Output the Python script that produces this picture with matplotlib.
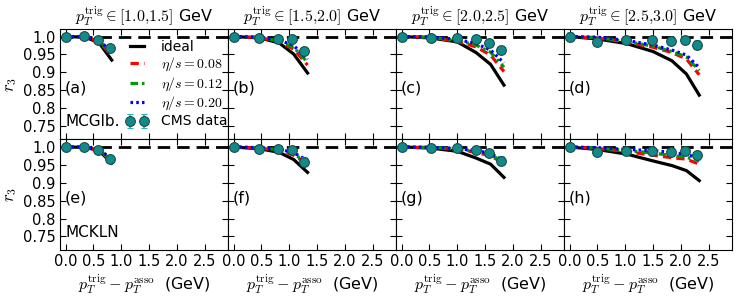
import matplotlib
matplotlib.use('Agg')
import matplotlib.pyplot as plt
import numpy as np

plt.rcParams['mathtext.fontset'] = 'cm'
plt.rcParams['font.family'] = 'DejaVu Sans'
plt.rcParams['font.size'] = 10

# trigger bins (one column each)
trig_bins = ['1.0{,}1.5', '1.5{,}2.0', '2.0{,}2.5', '2.5{,}3.0']
panel_tags = [['(a)', '(b)', '(c)', '(d)'], ['(e)', '(f)', '(g)', '(h)']]
row_names = ['MCGlb.', 'MCKLN']

# CMS data, same for both rows
x_data = [
    [0.0, 0.34, 0.58, 0.80],
    [0.0, 0.46, 0.80, 1.05, 1.27],
    [0.0, 0.52, 0.99, 1.33, 1.57, 1.79],
    [0.0, 0.49, 1.02, 1.48, 1.82, 2.07, 2.29],
]
r3_data = [
    [1.0, 1.001, 0.991, 0.967],
    [1.0, 0.995, 0.993, 0.992, 0.959],
    [1.0, 0.997, 0.997, 0.992, 0.983, 0.962],
    [1.0, 0.986, 0.989, 0.990, 0.987, 0.989, 0.977],
]
r3_err = [
    [0.002, 0.003, 0.004, 0.010],
    [0.002, 0.003, 0.004, 0.005, 0.012],
    [0.003, 0.003, 0.004, 0.005, 0.006, 0.012],
    [0.012, 0.008, 0.005, 0.006, 0.007, 0.010, 0.012],
]

# model curves
x_model = [
    [0.0, 0.35, 0.60, 0.83],
    [0.0, 0.47, 0.82, 1.08, 1.33],
    [0.0, 0.52, 1.00, 1.34, 1.60, 1.84],
    [0.0, 0.50, 1.03, 1.50, 1.84, 2.10, 2.33],
]

# MCGlb.
glb_ideal = [
    [1.0, 0.998, 0.983, 0.934],
    [1.0, 0.996, 0.982, 0.951, 0.898],
    [1.0, 0.996, 0.985, 0.955, 0.922, 0.864],
    [1.0, 0.993, 0.980, 0.958, 0.932, 0.895, 0.836],
]
glb_008 = [
    [1.0, 0.999, 0.987, 0.945],
    [1.0, 0.997, 0.985, 0.965, 0.920],
    [1.0, 0.998, 0.986, 0.971, 0.948, 0.902],
    [1.0, 0.996, 0.984, 0.970, 0.955, 0.937, 0.893],
]
glb_012 = [
    [1.0, 0.999, 0.989, 0.950],
    [1.0, 0.998, 0.987, 0.970, 0.928],
    [1.0, 0.998, 0.989, 0.976, 0.956, 0.914],
    [1.0, 0.997, 0.986, 0.973, 0.958, 0.943, 0.905],
]
glb_020 = [
    [1.0, 0.999, 0.991, 0.955],
    [1.0, 0.998, 0.990, 0.975, 0.936],
    [1.0, 0.999, 0.992, 0.980, 0.962, 0.926],
    [1.0, 0.998, 0.989, 0.976, 0.962, 0.948, 0.913],
]

# MCKLN
kln_ideal = [
    [1.0, 0.999, 0.990, 0.955],
    [1.0, 0.995, 0.985, 0.965, 0.929],
    [1.0, 0.997, 0.988, 0.969, 0.952, 0.915],
    [1.0, 0.993, 0.980, 0.961, 0.948, 0.934, 0.906],
]
kln_008 = [
    [1.0, 0.999, 0.991, 0.960],
    [1.0, 0.997, 0.990, 0.977, 0.952],
    [1.0, 0.998, 0.994, 0.985, 0.975, 0.954],
    [1.0, 0.996, 0.987, 0.977, 0.970, 0.966, 0.952],
]
kln_012 = [
    [1.0, 0.999, 0.992, 0.962],
    [1.0, 0.998, 0.992, 0.980, 0.956],
    [1.0, 0.999, 0.995, 0.987, 0.978, 0.958],
    [1.0, 0.997, 0.990, 0.983, 0.976, 0.971, 0.961],
]
kln_020 = [
    [1.0, 1.0, 0.994, 0.966],
    [1.0, 0.998, 0.994, 0.984, 0.962],
    [1.0, 0.999, 0.996, 0.990, 0.982, 0.962],
    [1.0, 0.998, 0.993, 0.990, 0.985, 0.979, 0.969],
]

rows = [
    (glb_ideal, glb_008, glb_012, glb_020),
    (kln_ideal, kln_008, kln_012, kln_020),
]

ideal_kw = dict(color='k', ls='-', lw=2.3, label='ideal')
hydro_kw = [
    dict(color='r', ls=(0, (2.6, 1.6)), lw=2.3, label=r'$\eta/s=0.08$'),
    dict(color='#009900', ls=(0, (2.4, 1.2, 0.8, 1.2)), lw=2.3, label=r'$\eta/s=0.12$'),
    dict(color='b', ls=(0, (0.8, 1.0)), lw=2.3, label=r'$\eta/s=0.20$'),
]
data_kw = dict(fmt='o', ms=7, mfc='#138a8a', mec='#1d4a4a', mew=0.8,
               ecolor='#2fb5b5', elinewidth=1.3, capsize=2.5, capthick=1.3,
               label='CMS data', zorder=5)

fig, axes = plt.subplots(2, 4, figsize=(7.47, 2.99), dpi=100, sharex=True, sharey=True)
fig.subplots_adjust(left=0.0803, right=0.98, top=0.903, bottom=0.164, wspace=0, hspace=0)

yticks = [0.75, 0.8, 0.85, 0.9, 0.95, 1.0]
ylabels = ['0.75', '0.8', '0.85', '0.9', '0.95', '1.0']

for i, (ideal, h008, h012, h020) in enumerate(rows):
    for j in range(4):
        ax = axes[i, j]
        ax.axhline(1.0, color='k', ls=(0, (4.5, 2.5)), lw=2, zorder=1)
        ax.plot(x_model[j], ideal[j], **ideal_kw)
        for kw, vals in zip(hydro_kw, (h008, h012, h020)):
            ax.plot(x_model[j], vals[j], **kw)
        ax.errorbar(x_data[j], r3_data[j], yerr=r3_err[j], **data_kw)
        ax.set_xlim(-0.1, 2.92)
        ax.set_ylim(0.712, 1.021)
        ax.set_xticks([0.0, 0.5, 1.0, 1.5, 2.0, 2.5])
        ax.set_yticks(yticks)
        ax.set_yticklabels(ylabels)
        ax.tick_params(direction='in', top=True, right=True, length=4, labelsize=10.5, pad=3)
        ax.text(0.03, 0.47, panel_tags[i][j], transform=ax.transAxes, fontsize=11.5, va='center')
        if i == 0:
            ax.set_title(r'$p_T^{\rm trig}\in[' + trig_bins[j] + ']$ GeV', fontsize=11.5, pad=4)
        if i == 1:
            ax.set_xlabel(r'$p_T^{\rm trig}-p_T^{\rm asso}$  (GeV)', fontsize=11.5, labelpad=3)
        if j == 0:
            ax.set_ylabel(r'$r_3$', fontsize=12, labelpad=3)
    axes[i, 0].text(0.03, 0.16, row_names[i], transform=axes[i, 0].transAxes,
                    fontsize=11, va='center')

axes[0, 0].legend(loc='center left', bbox_to_anchor=(0.36, 0.5), frameon=False,
                  fontsize=10, numpoints=2, handlelength=1.6, handletextpad=0.9,
                  labelspacing=0.15, borderaxespad=0)

fig.savefig('out.png', dpi=100)
